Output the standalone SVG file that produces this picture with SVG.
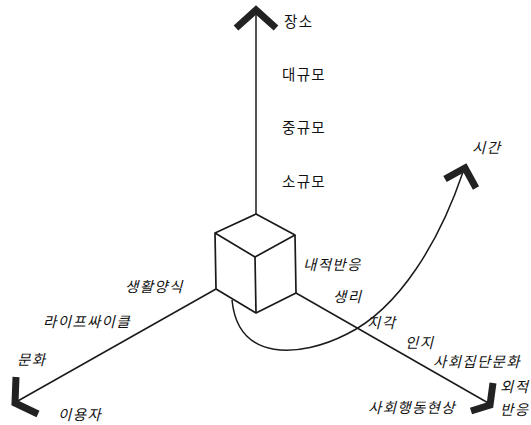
<svg xmlns="http://www.w3.org/2000/svg" width="531" height="425" viewBox="0 0 531 425">
<style>
.ax{fill:none;stroke:#1a1a1a;stroke-width:1.5}
.cube{fill:#fff;stroke:#1a1a1a;stroke-width:1.7;stroke-linejoin:round}
.head{fill:none;stroke:#222;stroke-width:7;stroke-linejoin:miter;stroke-linecap:butt}
text{font-family:"Noto Sans CJK KR","Noto Sans",sans-serif;font-size:14.5px;fill:#111;letter-spacing:1.3px}
.it{font-style:italic}
</style>
<rect width="531" height="425" fill="#fff"/>
<g id="connectors">
<line class="ax" x1="256" y1="10" x2="256" y2="214"/>
<line class="ax" x1="216" y1="289" x2="16" y2="402"/>
<line class="ax" x1="296" y1="293" x2="490" y2="404"/>
<path class="ax" d="M232,300 C238,362 300,358 347,334 C400,308 440,240 463,172"/>
<polyline class="head" points="236,28 256,10 276,28"/>
<polyline class="head" points="16,377 15,403 38,414"/>
<polyline class="head" points="493,383 490,405 471,411"/>
<polyline class="head" points="445,179 465,168 476,188"/>
</g>
<g id="cube">
<polygon class="cube" points="256,214 295,235 296,293 256,313 216,289 215,233"/>
<polyline class="cube" points="215,233 255,257 295,235"/>
<line class="cube" x1="255" y1="257" x2="256" y2="313"/>
</g>
<g id="place"><text x="284" y="27">장소</text></g>
<g id="large"><text x="282" y="80">대규모</text></g>
<g id="medium"><text x="282" y="133">중규모</text></g>
<g id="small"><text x="282" y="187">소규모</text></g>
<g id="time"><text class="it" x="472" y="153">시간</text></g>
<g id="internal"><text class="it" x="303" y="270">내적반응</text></g>
<g id="physio"><text class="it" x="333" y="302">생리</text></g>
<g id="percept"><text class="it" x="367" y="328">지각</text></g>
<g id="cognition"><text class="it" x="405" y="348">인지</text></g>
<g id="groupculture"><text class="it" x="433" y="367">사회집단문화</text></g>
<g id="external"><text class="it" x="500" y="392">외적</text><text class="it" x="500" y="415">반응</text></g>
<g id="behavior"><text class="it" x="368" y="413">사회행동현상</text></g>
<g id="lifestyle"><text class="it" x="125" y="292">생활양식</text></g>
<g id="lifecycle"><text class="it" x="43" y="327">라이프싸이클</text></g>
<g id="culture"><text class="it" x="17" y="365">문화</text></g>
<g id="user"><text class="it" x="58" y="420">이용자</text></g>
</svg>
